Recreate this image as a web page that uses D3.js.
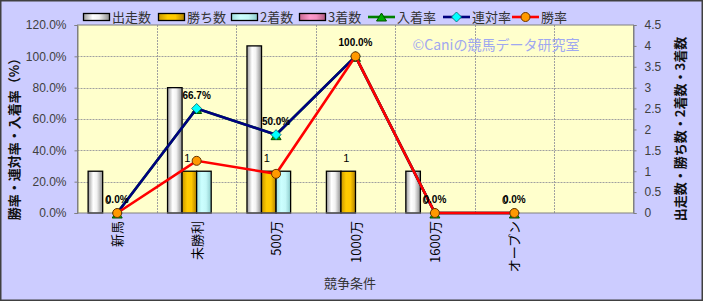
<!DOCTYPE html>
<html>
<head>
<meta charset="utf-8">
<script src="https://cdn.jsdelivr.net/npm/d3@7"></script>
<style>
  body { margin: 0; background: #fff; }
  svg { display: block; font-family: "Noto Sans CJK JP", "Liberation Sans", sans-serif; }
</style>
</head>
<body>
<div id="chart"></div>
<script>
// data
var categories = ["新馬", "未勝利", "500万", "1000万", "1600万", "オープン", ""];
var runs = [1, 3, 4, 1, 1, 0];
var wins = [0, 1, 1, 1, 0, 0];
var seconds = [0, 1, 1, 0, 0, 0];
var thirds = [0, 0, 0, 0, 0, 0];
var placeRate = [0, 66.7, 50.0, 100.0, 0, 0];
var rentaiRate = [0, 66.7, 50.0, 100.0, 0, 0];
var winRate = [0, 33.3, 25.0, 100.0, 0, 0];
var leftTicks = [0, 20, 40, 60, 80, 100, 120];
var rightTicks = [0, 0.5, 1, 1.5, 2, 2.5, 3, 3.5, 4, 4.5];

var barSeries = [
    { name: "出走数", values: runs, grad: "gWhite" },
    { name: "勝ち数", values: wins, grad: "gGold" },
    { name: "2着数", values: seconds, grad: "gCyan" },
    { name: "3着数", values: thirds, grad: "gPink" }
];
var lineSeries = [
    { name: "入着率", values: placeRate, color: "#008000", marker: "tri" },
    { name: "連対率", values: rentaiRate, color: "#000080", marker: "dia" },
    { name: "勝率", values: winRate, color: "#ff0000", marker: "circ" }
];

var w = 703, h = 301;
var pLeft = 77.5, pRight = 633.5, pTop = 25, pBottom = 213;

var svg = d3.select("#chart").append("svg")
    .attr("width", w)
    .attr("height", h);

// gradients for the cylinder-ish bars
var defs = svg.append("defs");
function grad(id, stops) {
    var g = defs.append("linearGradient").attr("id", id)
        .attr("x1", "0%").attr("x2", "100%").attr("y1", "0%").attr("y2", "0%");
    stops.forEach(function(s) {
        g.append("stop").attr("offset", s[0]).attr("stop-color", s[1]);
    });
}
grad("gWhite", [[0, "#9a9a9a"], [0.35, "#ffffff"], [0.6, "#f2f2f2"], [1, "#8c8c8c"]]);
grad("gGold", [[0, "#c89600"], [0.35, "#ffcc00"], [0.65, "#ffc800"], [1, "#b08000"]]);
grad("gCyan", [[0, "#9fdede"], [0.35, "#ccffff"], [0.65, "#c4f8f8"], [1, "#8ccccc"]]);
grad("gPink", [[0, "#c86890"], [0.4, "#ff99cc"], [0.65, "#f490c0"], [1, "#b05a80"]]);

// background + frame
svg.append("rect")
    .attr("x", 0.75).attr("y", 0.75)
    .attr("width", w - 1.5).attr("height", h - 1.5)
    .attr("fill", "#ccccff")
    .attr("stroke", "#404040")
    .attr("stroke-width", 1.5);

var idx = categories.map(function(d, i) { return i; });
var xScale = d3.scaleBand()
    .domain(idx)
    .range([pLeft, pRight])
    .padding(0);

var xSub = d3.scaleBand()
    .domain(d3.range(barSeries.length))
    .range([0, xScale.bandwidth()])
    .paddingInner(0)
    .paddingOuter(0.73);

var yLeft = d3.scaleLinear().domain([0, 120]).range([pBottom, pTop]);
var yRight = d3.scaleLinear().domain([0, 4.5]).range([pBottom, pTop]);

// plot area
svg.append("rect")
    .attr("x", pLeft).attr("y", pTop)
    .attr("width", pRight - pLeft).attr("height", pBottom - pTop)
    .attr("fill", "#ffffcc");

// gridlines
svg.append("g").selectAll("line")
    .data(leftTicks.filter(function(d) { return d > 0 && d < 120; }))
    .enter().append("line")
    .attr("x1", pLeft).attr("x2", pRight)
    .attr("y1", function(d) { return Math.round(yLeft(d)) + 0.5; })
    .attr("y2", function(d) { return Math.round(yLeft(d)) + 0.5; })
    .attr("stroke", "#a0a0a0")
    .attr("stroke-dasharray", "2,1");

svg.append("g").selectAll("line")
    .data(idx.slice(1))
    .enter().append("line")
    .attr("x1", function(d) { return Math.round(xScale(d)) + 0.5; })
    .attr("x2", function(d) { return Math.round(xScale(d)) + 0.5; })
    .attr("y1", pTop).attr("y2", pBottom)
    .attr("stroke", "#a0a0a0")
    .attr("stroke-dasharray", "2,1");

// bars (zero values draw nothing)
barSeries.forEach(function(s, si) {
    var vals = s.values.map(function(v, i) { return { v: v, i: i }; })
        .filter(function(d) { return d.v > 0; });
    svg.append("g").selectAll("rect")
        .data(vals)
        .enter().append("rect")
        .attr("x", function(d) { return xScale(d.i) + xSub(si); })
        .attr("y", function(d) { return yRight(d.v); })
        .attr("width", xSub.bandwidth())
        .attr("height", function(d) { return pBottom - yRight(d.v); })
        .attr("fill", "url(#" + s.grad + ")")
        .attr("stroke", "#000")
        .attr("stroke-width", 1.3);
});

// plot border
svg.append("rect")
    .attr("x", pLeft).attr("y", pTop)
    .attr("width", pRight - pLeft).attr("height", pBottom - pTop)
    .attr("fill", "none")
    .attr("stroke", "#808080")
    .attr("stroke-width", 1);

// lines + markers
function cx(i) { return xScale(i) + xScale.bandwidth() / 2; }
var line = d3.line()
    .x(function(d, i) { return cx(i); })
    .y(function(d) { return yLeft(d); });

function drawMarker(g, type, x, y) {
    if (type === "circ") {
        g.append("circle").attr("cx", x).attr("cy", y).attr("r", 4.5)
            .attr("fill", "#ff9900").attr("stroke", "#663300").attr("stroke-width", 1);
    } else if (type === "dia") {
        g.append("path")
            .attr("d", "M" + x + "," + (y - 5) + "L" + (x + 5) + "," + y + "L" + x + "," + (y + 5) + "L" + (x - 5) + "," + y + "Z")
            .attr("fill", "#00ffff").attr("stroke", "#006666").attr("stroke-width", 0.8);
    } else {
        g.append("path")
            .attr("d", "M" + x + "," + (y - 3) + "L" + (x + 5) + "," + (y + 5) + "L" + (x - 5) + "," + (y + 5) + "Z")
            .attr("fill", "#00b000").attr("stroke", "#005000").attr("stroke-width", 1);
    }
}

lineSeries.forEach(function(s) {
    var g = svg.append("g");
    g.append("path")
        .datum(s.values)
        .attr("d", line)
        .attr("fill", "none")
        .attr("stroke", s.color)
        .attr("stroke-width", 2.6);
    s.values.forEach(function(v, i) {
        drawMarker(g, s.marker, cx(i), yLeft(v));
    });
});

// data labels: rate (連対率) and 勝ち数
svg.append("g").selectAll("text")
    .data(rentaiRate)
    .enter().append("text")
    .attr("x", function(d, i) { return cx(i); })
    .attr("y", function(d) { return yLeft(d) - 10; })
    .attr("text-anchor", "middle")
    .attr("font-family", "Liberation Sans, Arial, sans-serif")
    .attr("font-size", 10)
    .attr("font-weight", "bold")
    .attr("fill", "#000")
    .text(function(d) { return d.toFixed(1) + "%"; });

svg.append("g").selectAll("text")
    .data(wins)
    .enter().append("text")
    .attr("x", function(d, i) { return xScale(i) + xSub(1) + xSub.bandwidth() / 2 - 2; })
    .attr("y", function(d) { return yRight(d) - 9; })
    .attr("text-anchor", "middle")
    .attr("font-family", "Liberation Sans, Arial, sans-serif")
    .attr("font-size", 11)
    .attr("fill", "#000")
    .text(function(d) { return d; });

// axes
var axL = svg.append("g")
    .attr("transform", "translate(" + pLeft + ",0)")
    .call(d3.axisLeft(yLeft).tickValues(leftTicks).tickSize(3).tickPadding(8)
        .tickFormat(function(d) { return d.toFixed(1) + "%"; }));
var axR = svg.append("g")
    .attr("transform", "translate(" + pRight + ",0)")
    .call(d3.axisRight(yRight).tickValues(rightTicks).tickSize(3).tickPadding(8)
        .tickFormat(function(d) { return d; }));
[axL, axR].forEach(function(ax) {
    ax.select(".domain").attr("stroke", "#808080");
    ax.selectAll(".tick line").attr("stroke", "#808080");
    ax.selectAll(".tick text")
        .attr("font-family", "Liberation Sans, Arial, sans-serif")
        .attr("font-size", 12)
        .attr("fill", "#404040");
});

// x labels, rotated
svg.append("g").selectAll("text")
    .data(categories)
    .enter().append("text")
    .attr("transform", function(d, i) { return "translate(" + (cx(i) + 5) + ",221) rotate(-90)"; })
    .attr("text-anchor", "end")
    .attr("font-size", 13)
    .attr("fill", "#000")
    .text(function(d) { return d; });

// axis titles
svg.append("text")
    .attr("x", 350).attr("y", 288)
    .attr("text-anchor", "middle")
    .attr("font-size", 13)
    .attr("fill", "#333")
    .text("競争条件");

svg.append("text")
    .attr("transform", "translate(19,136) rotate(-90)")
    .attr("text-anchor", "middle")
    .attr("font-size", 13)
    .attr("font-weight", "bold")
    .attr("fill", "#111")
    .text("勝率・連対率・入着率（%）");

svg.append("text")
    .attr("transform", "translate(685,129) rotate(-90)")
    .attr("text-anchor", "middle")
    .attr("font-size", 13)
    .attr("font-weight", "bold")
    .attr("fill", "#111")
    .text("出走数・勝ち数・2着数・3着数");

// watermark
svg.append("text")
    .attr("x", 496).attr("y", 50)
    .attr("text-anchor", "middle")
    .attr("font-size", 14)
    .attr("fill", "#9fa8f0")
    .text("©Caniの競馬データ研究室");

// legend
var legend = svg.append("g").attr("transform", "translate(83,17)");
var legendX = [0, 75, 148, 216, 285, 360, 429];
barSeries.concat(lineSeries).forEach(function(s, k) {
    var g = legend.append("g").attr("transform", "translate(" + legendX[k] + ",0)");
    if (s.grad) {
        g.append("rect").attr("x", 0.5).attr("y", -3.5).attr("width", 26).attr("height", 7)
            .attr("fill", "url(#" + s.grad + ")").attr("stroke", "#000").attr("stroke-width", 1.3);
    } else {
        g.append("line").attr("x1", 0).attr("x2", 27).attr("y1", 0).attr("y2", 0)
            .attr("stroke", s.color).attr("stroke-width", 2.6);
        drawMarker(g, s.marker, 13.5, s.marker === "tri" ? -1 : 0);
    }
    g.append("text")
        .attr("x", 29).attr("y", 5)
        .attr("font-size", 13)
        .attr("fill", "#333")
        .text(s.name);
});
</script>
</body>
</html>
